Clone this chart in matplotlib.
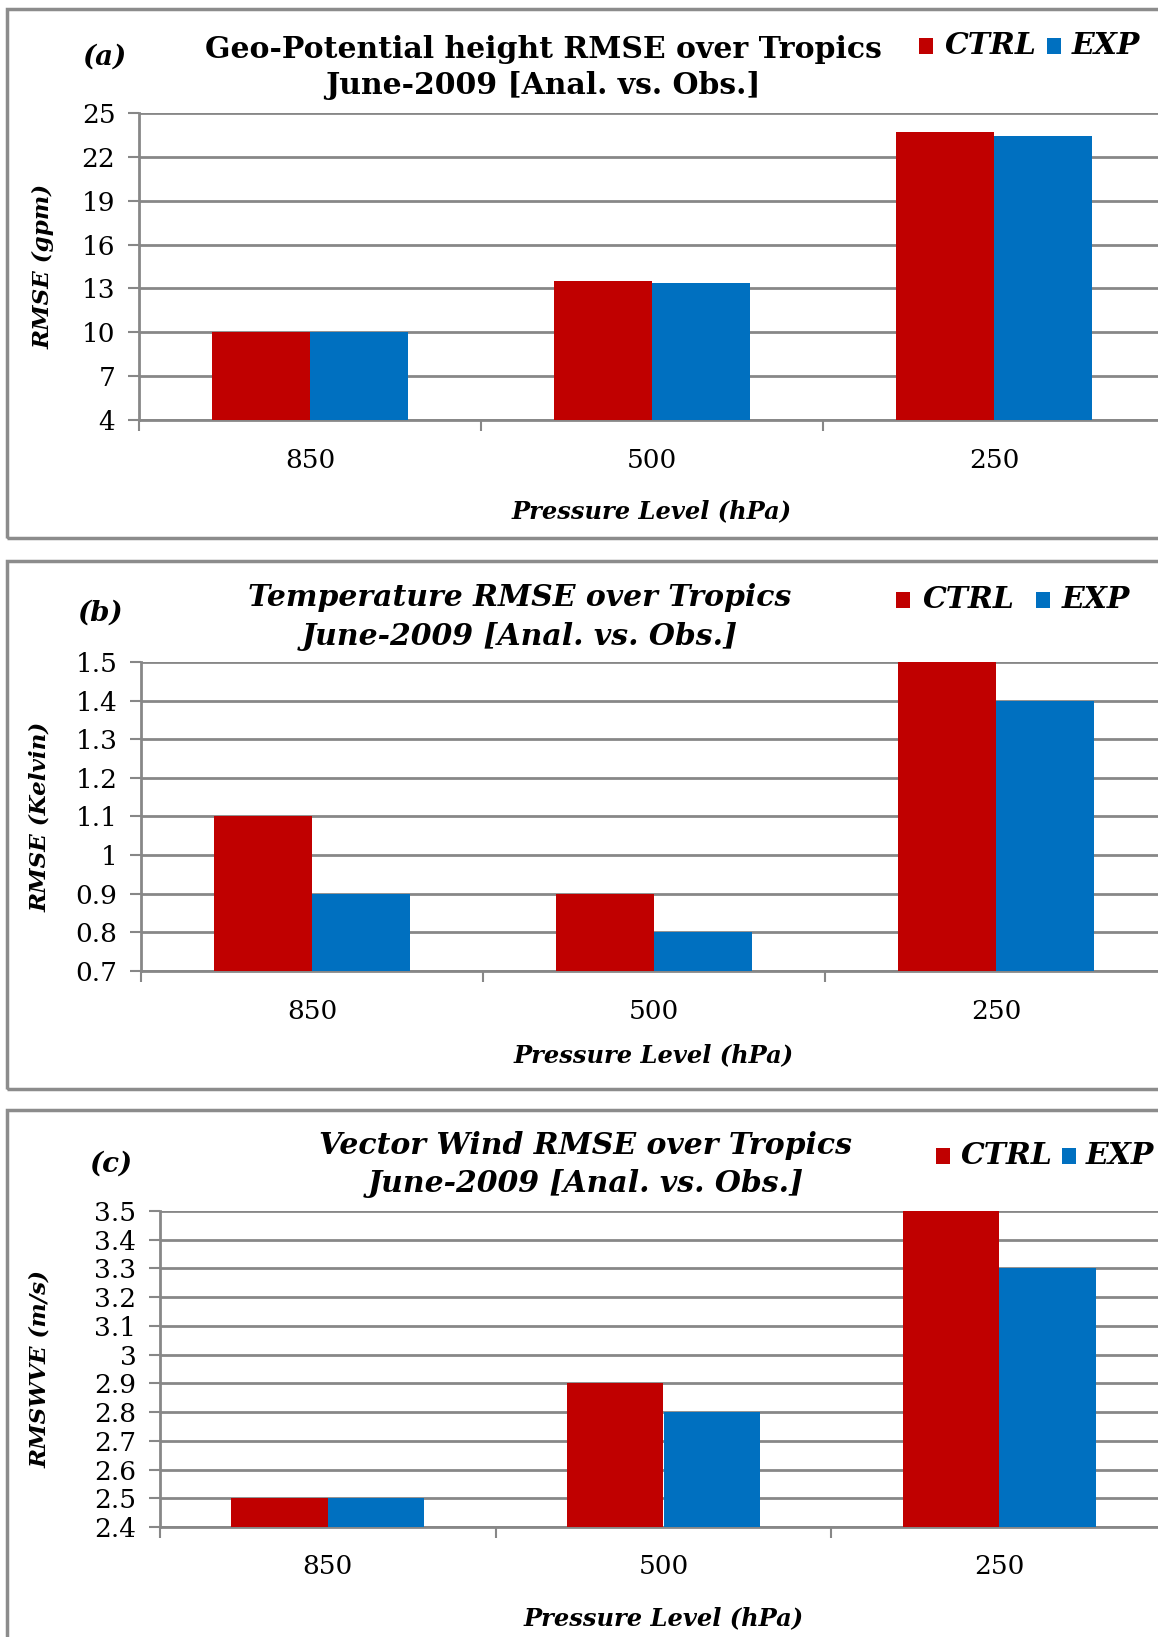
import matplotlib
matplotlib.use("Agg")
import matplotlib.pyplot as plt
from matplotlib.patches import Rectangle
import numpy as np

plt.rcParams['font.family'] = ['DejaVu Serif']

levels = ["850", "500", "250"]
series = ["CTRL", "EXP"]
colors = {"CTRL": "#C00000", "EXP": "#0070C0"}

geo_ctrl = [10.0, 13.5, 23.7]
geo_exp = [10.0, 13.4, 23.4]
geo_ticks = [4, 7, 10, 13, 16, 19, 22, 25]

temp_ctrl = [1.1, 0.9, 1.5]
temp_exp = [0.9, 0.8, 1.4]
temp_ticks = [0.7, 0.8, 0.9, 1.0, 1.1, 1.2, 1.3, 1.4, 1.5]
temp_labels = ["0.7", "0.8", "0.9", "1", "1.1", "1.2", "1.3", "1.4", "1.5"]

wind_ctrl = [2.5, 2.9, 3.5]
wind_exp = [2.5, 2.8, 3.3]
wind_ticks = [2.4, 2.5, 2.6, 2.7, 2.8, 2.9, 3.0, 3.1, 3.2, 3.3, 3.4, 3.5]
wind_labels = ["2.4", "2.5", "2.6", "2.7", "2.8", "2.9", "3", "3.1", "3.2", "3.3", "3.4", "3.5"]

W, H = 1158, 1637
fig = plt.figure(figsize=(W / 100, H / 100), dpi=100)
GRID = "#878787"


def fx(x):
    return x / W


def fy(y):
    return 1 - y / H


panels = [
    dict(box=(7, 9, 538), ax=(139, 1165, 113, 420), ctrl=geo_ctrl, exp=geo_exp,
         ticks=geo_ticks, labels=[str(t) for t in geo_ticks],
         title=["Geo-Potential height RMSE over Tropics", "June-2009 [Anal. vs. Obs.]"],
         tstyle="normal", tx=543, ty=(49, 86), ylabel="RMSE (gpm)", ylx=44,
         tag="(a)", tagxy=(104, 57), leg=(919, 945, 1047, 1072, 46),
         xtl_y=460, xl_y=511),
    dict(box=(7, 561, 1089), ax=(141, 1167, 662, 971), ctrl=temp_ctrl, exp=temp_exp,
         ticks=temp_ticks, labels=temp_labels,
         title=["Temperature RMSE over Tropics", "June-2009 [Anal. vs. Obs.]"],
         tstyle="italic", tx=520, ty=(598, 636), ylabel="RMSE (Kelvin)", ylx=40,
         tag="(b)", tagxy=(100, 613), leg=(896, 923, 1036, 1062, 600),
         xtl_y=1011, xl_y=1055),
    dict(box=(7, 1110, 1660), ax=(160, 1167, 1211, 1527), ctrl=wind_ctrl, exp=wind_exp,
         ticks=wind_ticks, labels=wind_labels,
         title=["Vector Wind RMSE over Tropics", "June-2009 [Anal. vs. Obs.]"],
         tstyle="italic", tx=586, ty=(1145, 1183), ylabel="RMSWVE (m/s)", ylx=40,
         tag="(c)", tagxy=(111, 1164), leg=(936, 961, 1062, 1086, 1156),
         xtl_y=1566, xl_y=1618),
]

x = np.arange(len(levels))
w = 0.287

for p in panels:
    bx, btop, bbot = p["box"]
    fig.patches.append(Rectangle((fx(bx), fy(bbot)), fx(1200 - bx), fy(btop) - fy(bbot),
                                 transform=fig.transFigure, facecolor="none",
                                 edgecolor="#8c8c8c", linewidth=2.5, zorder=-1))
    l, r, t, b = p["ax"]
    ax = fig.add_axes([fx(l), fy(b), fx(r - l), fy(t) - fy(b)])
    ax.set_facecolor("none")
    ax.bar(x - w / 2, p["ctrl"], w, color=colors["CTRL"], zorder=3)
    ax.bar(x + w / 2, p["exp"], w, color=colors["EXP"], zorder=3)
    ax.set_xlim(-0.5, 2.5)
    ax.set_ylim(p["ticks"][0], p["ticks"][-1])
    ax.set_yticks(p["ticks"])
    ax.set_yticklabels(p["labels"], fontsize=19)
    ax.yaxis.grid(True, color=GRID, linewidth=2, zorder=0)
    ax.set_axisbelow(True)
    ax.set_xticks([-0.5, 0.5, 1.5, 2.5])
    ax.set_xticklabels([])
    ax.tick_params(axis="y", length=8, width=1.5, color=GRID, pad=9)
    ax.tick_params(axis="x", length=8, width=1.5, color=GRID, direction="out")
    for s in ["top", "right"]:
        ax.spines[s].set_visible(False)
    for s in ["left", "bottom"]:
        ax.spines[s].set_color(GRID)
        ax.spines[s].set_linewidth(2)
    for i, lv in enumerate(levels):
        xf = fx(l) + fx(r - l) * (i + 0.5) / 3
        fig.text(xf, fy(p["xtl_y"]), lv, fontsize=19, ha="center", va="center")
    fig.text(fx((l + r) / 2), fy(p["xl_y"]), "Pressure Level (hPa)", fontsize=17.4,
             fontweight="bold", fontstyle="italic", ha="center", va="center")
    fig.text(fx(p["ylx"]), fy((t + b) / 2), p["ylabel"], fontsize=16.6, rotation=90,
             fontweight="bold", fontstyle="italic", ha="center", va="center")
    for line, yy in zip(p["title"], p["ty"]):
        fig.text(fx(p["tx"]), fy(yy), line, fontsize=21.5, fontweight="heavy",
                 fontstyle=p["tstyle"], ha="center", va="center")
    fig.text(fx(p["tagxy"][0]), fy(p["tagxy"][1]), p["tag"], fontsize=20,
             fontweight="bold", fontstyle="italic", ha="center", va="center")
    rx, rtx, bxl, btx, ly = p["leg"]
    for sx, txx, name in [(rx, rtx, "CTRL"), (bxl, btx, "EXP")]:
        fig.patches.append(Rectangle((fx(sx), fy(ly + 8)), fx(14), fy(ly - 8) - fy(ly + 8),
                                     transform=fig.transFigure, facecolor=colors[name],
                                     edgecolor="none", zorder=5))
        fig.text(fx(txx), fy(ly), name, fontsize=21.5, fontweight="bold",
                 fontstyle="italic", ha="left", va="center")

fig.savefig("out.png", dpi=100)
